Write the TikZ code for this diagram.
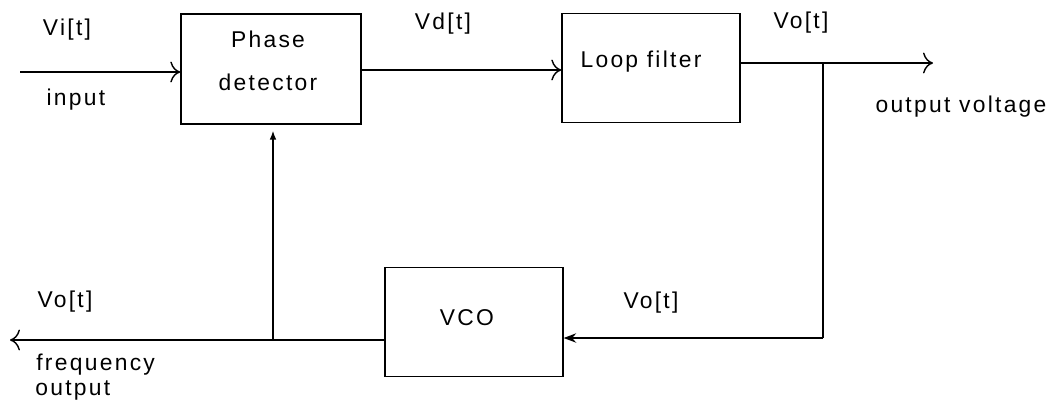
\documentclass[tikz,border=0pt]{standalone}
\usepackage{fontspec}
\setmainfont{Liberation Sans}[LetterSpace=10]
\usetikzlibrary{arrows.meta}

\tikzset{
  block/.style={draw, line width=0.8pt, minimum width=3.56cm, minimum height=2.18cm, inner sep=0pt},
  sig/.style={line width=0.8pt},
  lbl/.style={inner sep=0pt, font=\fontsize{13}{16}\selectfont}
}

\begin{document}
\begin{tikzpicture}[x=0.02cm, y=-0.02cm]
    \useasboundingbox (0,0) rectangle (1063,414);

    % bloques
    \node[block, minimum width=3.6cm, minimum height=2.2cm] (pd) at (271,69) {};
    \node[block] (lf) at (651,68) {};
    \node[block] (vco) at (474,322) {};

    \node[lbl, align=center] (pdtext) at (268,61) {Phase\\[3mm]detector};
    \node[lbl] (lftext) at (641,62) {Loop filter};
    \node[lbl] (vcotext) at (467,318) {VCO};

    % puntos libres
    \coordinate (in) at (20,72);
    \coordinate (out) at (933,63);
    \coordinate (br) at (823,63);
    \coordinate (corner) at (823,338);
    \coordinate (fo) at (10,340);
    \coordinate (tap) at (273,340);

    % conexiones
    \draw[sig, -{To[length=2mm]}] (in) -- (in -| pd.west);
    \draw[sig, -{To[length=2mm]}] (pd.east |- 0,70) -- (lf.west |- 0,70);
    \draw[sig, -{To[length=2mm]}] (lf.east |- out) -- (out);
    \draw[sig] (br) -- (corner);
    \draw[sig, -{Stealth[length=2.5mm]}] (corner) -- (corner -| vco.east);
    \draw[sig, -{To[length=2mm]}] (vco.west |- fo) -- (fo);
    \draw[sig, -{Latex[length=1.8mm]}, shorten >=0.12cm] (tap) -- (tap |- pd.south);

    % etiquetas
    \node[lbl] (vi) at (67,30) {Vi[t]};
    \node[lbl] (input) at (76,100) {input};
    \node[lbl] (vd) at (443,24) {Vd[t]};
    \node[lbl] (votop) at (801,23) {Vo[t]};
    \node[lbl] (outv) at (961,107) {output voltage};
    \node[lbl] (voleft) at (65,302) {Vo[t]};
    \node[lbl, anchor=west] (freq) at (36,365) {frequency};
    \node[lbl, anchor=west] (fout) at (35,390) {output};
    \node[lbl] (voright) at (651,303) {Vo[t]};
\end{tikzpicture}
\end{document}
